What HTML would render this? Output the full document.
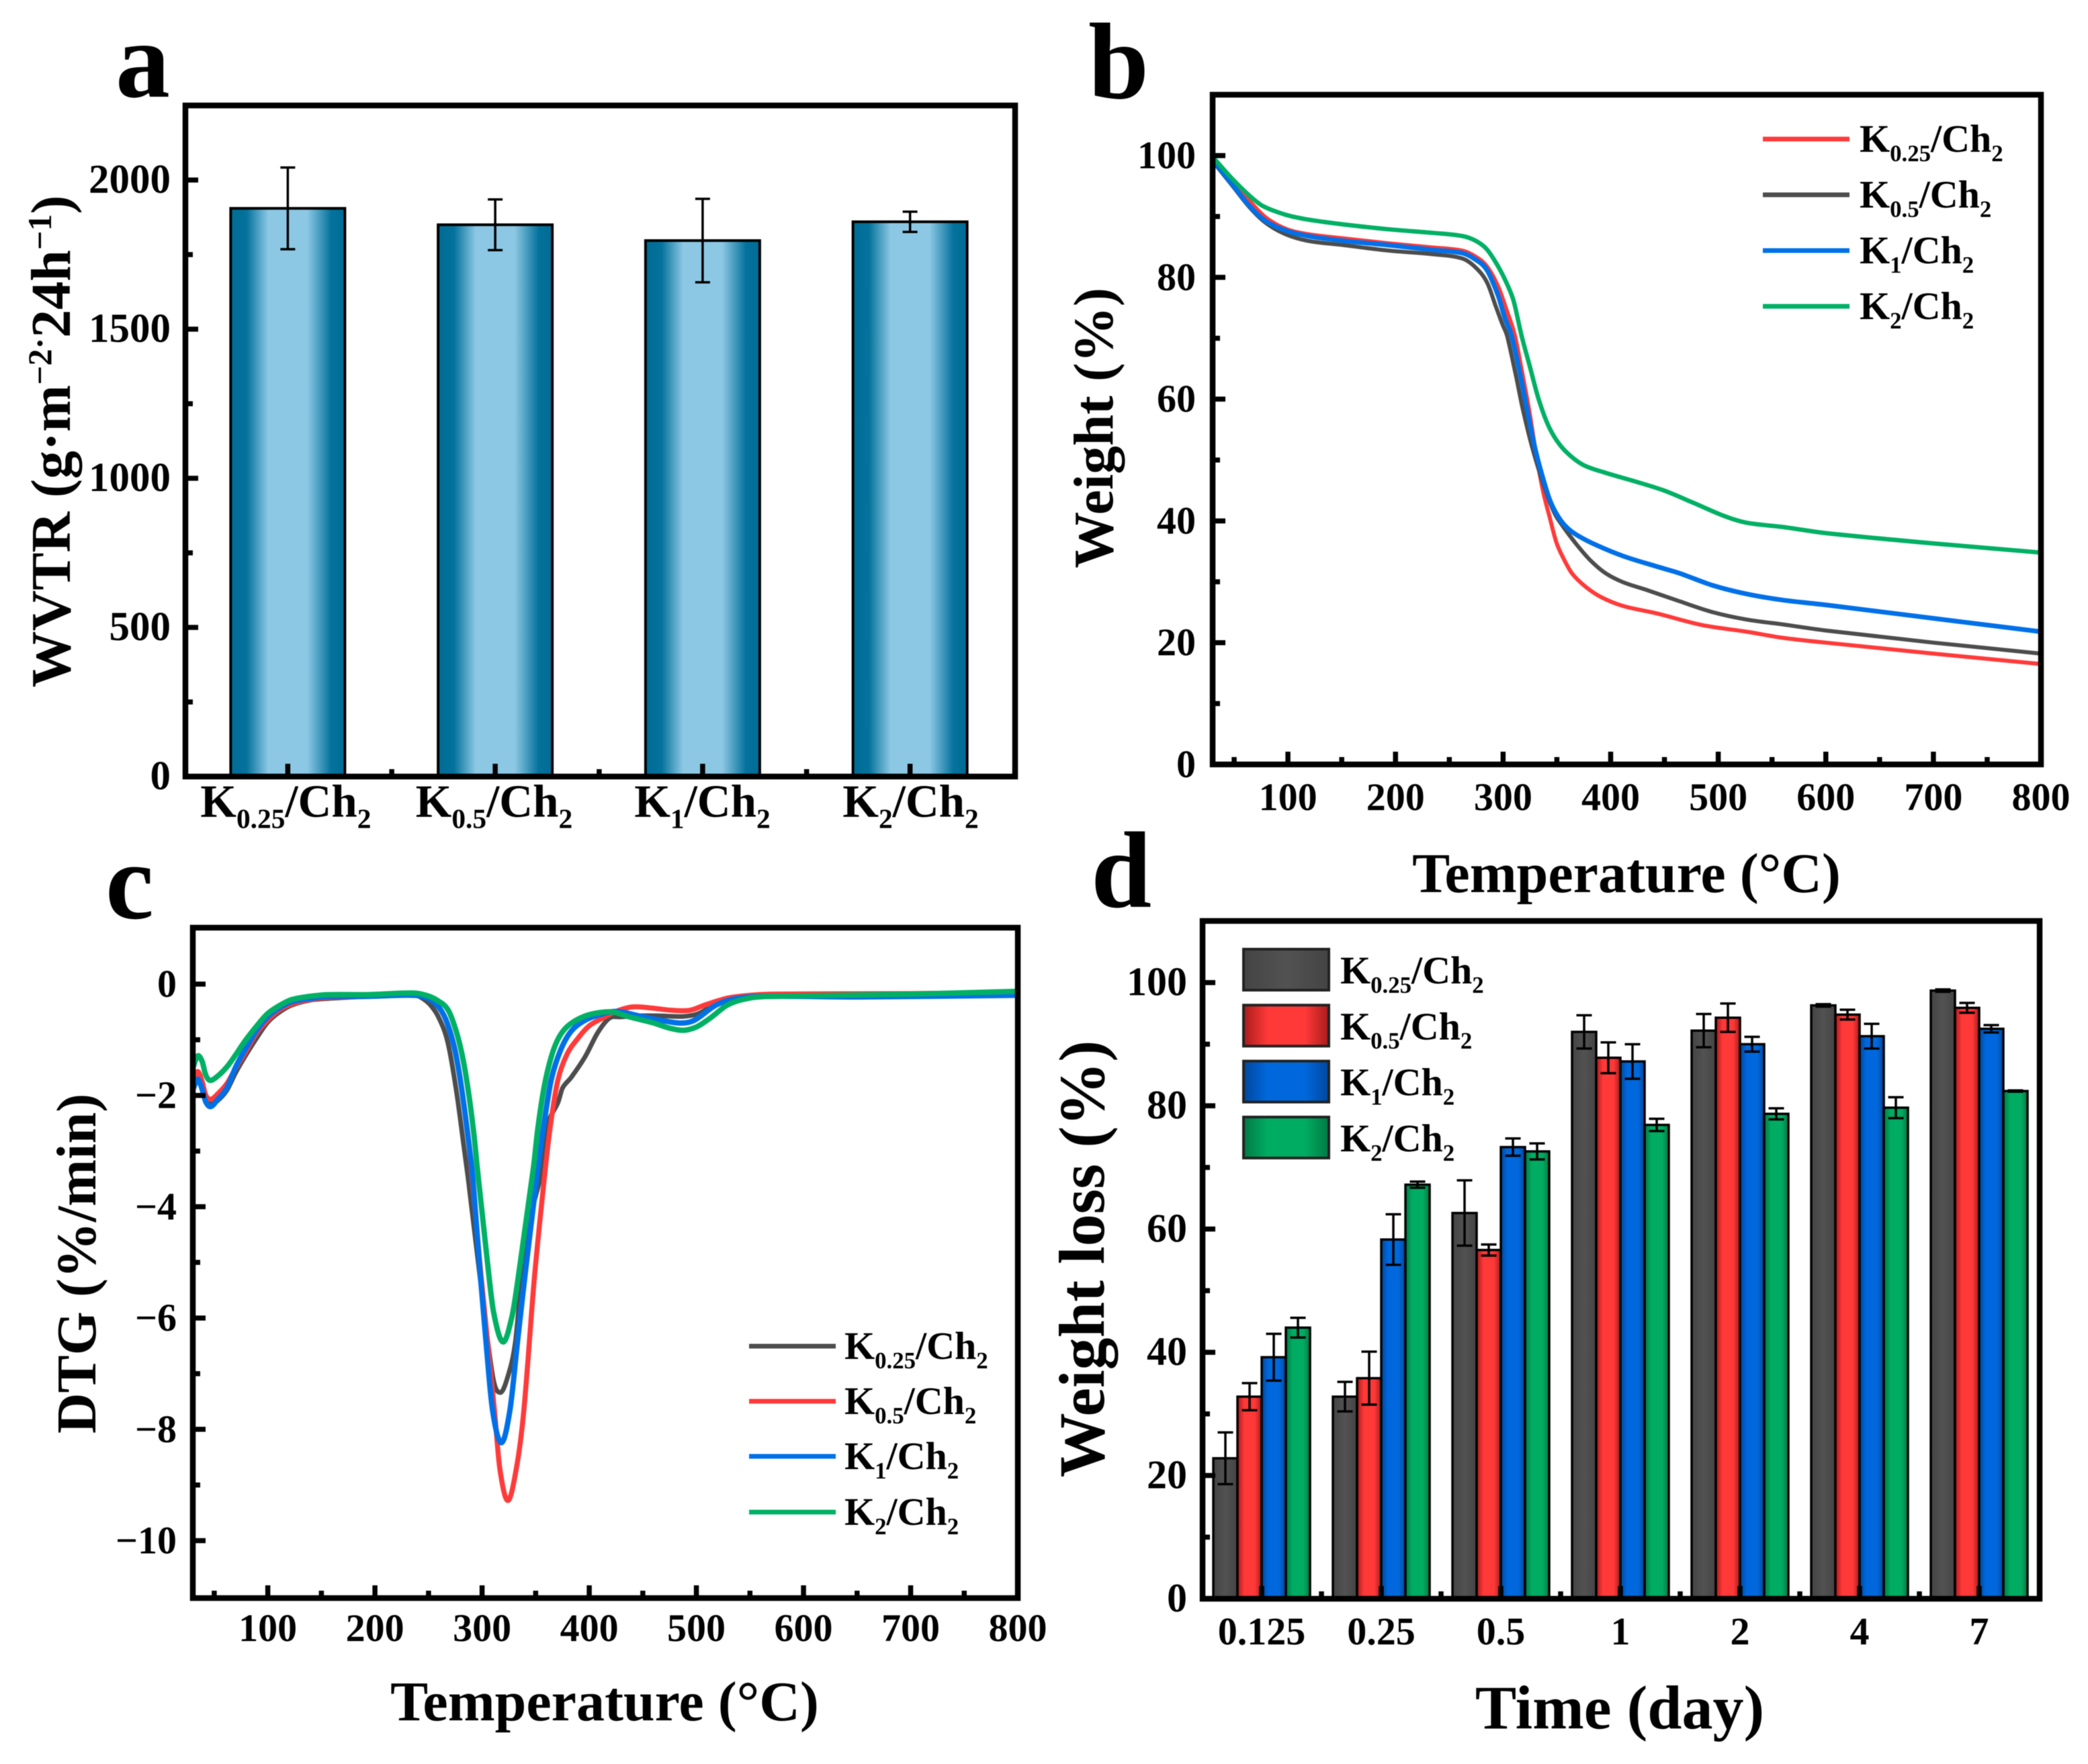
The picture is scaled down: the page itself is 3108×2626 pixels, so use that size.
<!DOCTYPE html>
<html lang="en">
<head>
<meta charset="utf-8">
<title>WVTR, TGA, DTG and weight loss panels</title>
<style>
html,body{margin:0;padding:0;background:#fff;}
svg{display:block;filter:blur(0.6px);}
text{font-family:"Liberation Serif",serif;font-weight:bold;fill:#000;}
</style>
</head>
<body>
<svg id="fig" xmlns="http://www.w3.org/2000/svg" width="3108" height="2626" viewBox="0 0 3108 2626">
<defs>
<linearGradient id="gTeal" x1="0" x2="1" y1="0" y2="0"><stop offset="0" stop-color="#006c96"/><stop offset="0.14" stop-color="#04729c"/><stop offset="0.33" stop-color="#8cc8e4"/><stop offset="0.67" stop-color="#8cc8e4"/><stop offset="0.88" stop-color="#04729c"/><stop offset="1" stop-color="#006c96"/></linearGradient>
<linearGradient id="gGray" x1="0" x2="1" y1="0" y2="0"><stop offset="0" stop-color="#444"/><stop offset="0.5" stop-color="#525252"/><stop offset="1" stop-color="#444"/></linearGradient>
<linearGradient id="gRed" x1="0" x2="1" y1="0" y2="0"><stop offset="0" stop-color="#a81c1c"/><stop offset="0.28" stop-color="#ff3838"/><stop offset="0.72" stop-color="#ff3838"/><stop offset="1" stop-color="#a81c1c"/></linearGradient>
<linearGradient id="gBlue" x1="0" x2="1" y1="0" y2="0"><stop offset="0" stop-color="#00479c"/><stop offset="0.28" stop-color="#0068dc"/><stop offset="0.72" stop-color="#0068dc"/><stop offset="1" stop-color="#00479c"/></linearGradient>
<linearGradient id="gGreen" x1="0" x2="1" y1="0" y2="0"><stop offset="0" stop-color="#007a44"/><stop offset="0.28" stop-color="#00ac62"/><stop offset="0.72" stop-color="#00ac62"/><stop offset="1" stop-color="#007a44"/></linearGradient>
<clipPath id="clipB"><rect x="1805" y="141" width="1233" height="997"/></clipPath>
<clipPath id="clipC"><rect x="287" y="1381" width="1228" height="998"/></clipPath>
</defs>
<rect width="3108" height="2626" fill="#fff"/>

<text x="172" y="144" font-size="162">a</text>
<text x="1620" y="146" font-size="162">b</text>
<text x="157" y="1367" font-size="162">c</text>
<text x="1624" y="1350" font-size="162">d</text>

<text transform="translate(104,657) rotate(-90)" text-anchor="middle" font-size="84">WVTR (g·m<tspan font-size="50" dy="-28">−2·</tspan><tspan dy="28">24h</tspan><tspan font-size="50" dy="-28">−1</tspan><tspan dy="28">)</tspan></text>
<text transform="translate(1656,637) rotate(-90)" text-anchor="middle" font-size="84">Weight (%)</text>
<text x="2421" y="1328" text-anchor="middle" font-size="84">Temperature (°C)</text>
<text transform="translate(142,1881) rotate(-90)" text-anchor="middle" font-size="84">DTG (%/min)</text>
<text x="900" y="2561" text-anchor="middle" font-size="84">Temperature (°C)</text>
<text transform="translate(1643,1874) rotate(-90)" text-anchor="middle" font-size="96">Weight loss (%)</text>
<text x="2411" y="2573" text-anchor="middle" font-size="92">Time (day)</text>
</svg>

<script>
// ---------- panel a data ----------
const wvtrSamples = [["0.25","2"],["0.5","2"],["1","2"],["2","2"]];
const wvtrValues = [1905, 1850, 1797, 1860];
const wvtrErrors = [137, 85, 140, 34];
const wvtrYTicks = [0, 500, 1000, 1500, 2000];

// ---------- panel b data ----------
const tgaK025Temps = [30,47.7,64.4,79,97.7,118.5,151.8,193.4,235,262,274.6,285,295.4,303.7,311,318,324.5,330.8,337,343.3,349.5,355.7,364,376.6,391,412,443,484.8,526.4,560,600,700,800];
const tgaK025 = [99.5,95.6,92.5,89.9,88,87.1,86.4,85.6,84.9,84.4,83.4,81.8,78.5,74.4,70.4,64.1,57.9,50.9,45,40.6,36.5,34,31.4,29.2,27.5,26,24.8,22.9,21.8,20.8,20,18.2,16.5];
const tgaK05Temps = [30,47.7,64.4,79,97.7,118.5,151.8,193.4,235,262,274.6,285,293.3,299.6,303.7,312,318,326.6,337,347.4,355.7,368,380.7,395.3,412,432.8,464,495,526.4,560,600,700,800];
const tgaK05 = [99.1,95.2,91.5,89,87.1,86,85.3,84.4,83.8,83.1,81.6,79.2,75.2,72.2,70.4,63.8,58.6,52.4,46.3,41.4,39.1,36.2,33.6,31.4,29.9,28.7,26.8,25,23.8,23,22,20,18.2];
const tgaK1Temps = [30,47.7,64.4,79,97.7,118.5,151.8,193.4,235,262,274.6,285,295.4,301.7,307.9,316.2,322.4,328.7,335,343.3,351.6,360,370.3,387,412,443,464,495,526.4,560,600,700,800];
const tgaK1 = [99.3,95.4,91.7,89.3,87.7,86.8,86,85.3,84.5,84,82.9,81.2,77,73.3,70.4,63.8,58.2,52.7,48.3,43.5,40.6,38.8,37.5,36,34.2,32.5,31.4,29.4,28,27,26.2,24,21.8];
const tgaK2Temps = [30,47.7,64.4,76.9,97.7,118.5,151.8,193.4,235,262,274.6,285,295.4,303.7,310,317.2,324.5,332.9,341.2,349.5,360,374.5,395.3,422.4,449.4,476.5,505.6,526.4,560,600,700,800];
const tgaK2 = [99.8,96.3,93.4,91.7,90.3,89.5,88.7,87.9,87.3,86.8,86,84.6,81.8,78.9,76,70.4,65.6,60.1,56,53.3,51.1,49.2,47.9,46.5,45,43,40.8,39.7,39,38,36.3,34.8];
const tgaXTicks = [100,200,300,400,500,600,700,800];
const tgaYTicks = [0,20,40,60,80,100];

// ---------- panel c data ----------
const dtgK025Temps = [30,34.6,38.7,42,46.7,53.4,61.7,70,78.4,88.9,99.3,109.7,122,139,156,193,235,243,252,260,268,276,283,287,297,310,317,324,331,337,345,356,360,371,375,383,396,408,419,429,446,467,488,502,519,540,570,650,800];
const dtgK025 = [-1.87,-1.67,-1.83,-2.07,-2.15,-2.09,-1.91,-1.59,-1.31,-0.99,-0.7,-0.52,-0.38,-0.29,-0.26,-0.22,-0.18,-0.24,-0.38,-0.62,-1.05,-1.92,-2.92,-3.5,-5.1,-7.05,-7.34,-7.05,-6.44,-5.24,-4.2,-3.32,-2.6,-2.12,-1.87,-1.68,-1.31,-0.87,-0.61,-0.59,-0.57,-0.57,-0.58,-0.53,-0.35,-0.24,-0.2,-0.22,-0.2];
const dtgK05Temps = [30,34.6,38.7,42,46.7,53.4,61.7,70,78.4,88.9,99.3,109.7,122,139,156,193,235,247,258,266,274,279,284,288,299,311.5,316.5,324,332,339,349,359,364.5,370.8,379,389.6,400,412.6,425,440,458.5,477,494,508.6,529.5,550,571,700,800];
const dtgK05 = [-1.75,-1.57,-1.75,-1.99,-2.07,-1.97,-1.79,-1.51,-1.25,-0.9,-0.66,-0.48,-0.36,-0.28,-0.24,-0.22,-0.18,-0.22,-0.38,-0.63,-1.11,-1.64,-2.31,-2.92,-5.24,-7.65,-8.7,-9.28,-8.7,-7.65,-5.24,-3.32,-2.44,-1.72,-1.27,-0.97,-0.75,-0.61,-0.49,-0.41,-0.43,-0.47,-0.47,-0.37,-0.25,-0.2,-0.18,-0.17,-0.15];
const dtgK1Temps = [30,34.6,37.7,42,46.7,53.4,61.7,70,78.4,88.9,99.3,109.7,122,139,156,193,235,247.6,258,266,273.7,279,284,288,291.4,298.4,303.7,309.7,318,326,333,340,352,358,364.5,373,383,396,408,425,446,467,485.7,498,519,540,570,650,800];
const dtgK1 = [-1.9,-1.71,-1.83,-2.11,-2.2,-2.07,-1.87,-1.49,-1.19,-0.85,-0.6,-0.44,-0.32,-0.26,-0.22,-0.22,-0.2,-0.24,-0.38,-0.63,-1.11,-1.64,-2.31,-2.92,-3.5,-5.24,-6.44,-7.65,-8.24,-7.65,-6.44,-5.24,-3.32,-2.48,-1.72,-1.2,-0.85,-0.65,-0.56,-0.49,-0.57,-0.65,-0.7,-0.65,-0.37,-0.25,-0.22,-0.23,-0.2];
const dtgK2Temps = [30,34.6,38.7,42,46,53.4,61.7,70,78.4,88.9,99.3,109.7,122,139,156,193,235,247.6,258,268.4,276.8,283,288,292.5,295.6,305,310.8,319.5,328,335,347.8,352,358,364.5,370.8,379,391.7,404,421,437.6,458.5,475,487.7,500,513,529.5,550,571,700,800];
const dtgK2 = [-1.51,-1.29,-1.39,-1.63,-1.73,-1.65,-1.49,-1.27,-1.03,-0.77,-0.54,-0.4,-0.28,-0.22,-0.19,-0.19,-0.16,-0.2,-0.29,-0.47,-0.91,-1.43,-2.04,-2.72,-3.32,-5,-5.9,-6.43,-5.96,-5.1,-3.32,-2.6,-1.84,-1.31,-0.99,-0.77,-0.61,-0.53,-0.5,-0.59,-0.69,-0.79,-0.83,-0.77,-0.61,-0.37,-0.25,-0.22,-0.18,-0.13];
const dtgXTicks = [100,200,300,400,500,600,700,800];
const dtgYTicks = [0,-2,-4,-6,-8,-10];

// ---------- panel d data ----------
const lossDays = ["0.125","0.25","0.5","1","2","4","7"];
const lossK025 = [22.8,32.8,62.6,92,92.2,96.3,98.7];
const lossK05 = [32.8,35.8,56.6,87.8,94.3,94.8,95.9];
const lossK1 = [39.2,58.3,73.3,87.2,90,91.3,92.5];
const lossK2 = [44,67.2,72.6,76.9,78.7,79.7,82.4];
const lossK025Err = [4.2,2.4,5.3,2.7,2.7,0.2,0.2];
const lossK05Err = [2.2,4.3,0.9,2.5,2.3,0.8,0.8];
const lossK1Err = [3.8,4.1,1.4,2.8,1.2,2.0,0.6];
const lossK2Err = [1.6,0.5,1.3,1.0,0.9,1.7,0.1];
const lossYTicks = [0,20,40,60,80,100];

// ---------- layout ----------
const RED = "#ff3a3a", GRAY = "#4d4d4d", BLUE = "#0070e8", GREEN = "#00b064";
const frameA = {l:276, r:1511, t:157, b:1156};
const frameB = {l:1805, r:3038, t:141, b:1138};
const frameC = {l:287, r:1515, t:1381, b:2379};
const frameD = {l:1790, r:3036, t:1371, b:2380};
const linear = (d0, d1, r0, r1) => v => r0 + (v - d0) / (d1 - d0) * (r1 - r0);
const aY = linear(0, 2250, frameA.b, frameA.t);
const aX = i => frameA.l - 2 + (i + 0.5) * (frameA.r - frameA.l) / wvtrValues.length;
const bX = linear(30, 800, frameB.l, frameB.r);
const bY = linear(0, 110, frameB.b, frameB.t);
const cX = linear(30, 800, frameC.l, frameC.r);
const cY = linear(0, -10, 1465, 2293.5);
const dX = i => frameD.l - 1 + (i + 0.5) * (frameD.r - frameD.l) / lossDays.length;
const dY = linear(0, 110, frameD.b, frameD.t);

const svg = document.getElementById("fig");
const NS = "http://www.w3.org/2000/svg";
function mk(tag, parent, attrs, text) {
  const el = document.createElementNS(NS, tag);
  for (const k in attrs) el.setAttribute(k, attrs[k]);
  if (text !== undefined) el.textContent = text;
  parent.appendChild(el);
  return el;
}
// Smooth path through mapped points (Hermite tangents suited to uneven spacing)
function smoothPath(xs, ys, fx, fy) {
  const p = xs.map((x, i) => [fx(x), fy(ys[i])]);
  const n = p.length;
  const slope = i => {
    const a = p[Math.max(i - 1, 0)], b = p[Math.min(i + 1, n - 1)];
    return (b[1] - a[1]) / (b[0] - a[0]);
  };
  let d = "M" + p[0][0].toFixed(1) + " " + p[0][1].toFixed(1);
  for (let i = 0; i < n - 1; i++) {
    const h = (p[i + 1][0] - p[i][0]) / 3;
    d += "C" + (p[i][0] + h).toFixed(1) + " " + (p[i][1] + slope(i) * h).toFixed(1) + " " + (p[i + 1][0] - h).toFixed(1) + " " + (p[i + 1][1] - slope(i + 1) * h).toFixed(1) + " " + p[i + 1][0].toFixed(1) + " " + p[i + 1][1].toFixed(1);
  }
  return d;
}
// Label such as K0.25/Ch2 with real text subscripts
function sampleLabel(parent, x, y, size, sub1, sub2, anchor) {
  const t = mk("text", parent, {x: x, y: y, "font-size": size, "text-anchor": anchor || "start"});
  const small = size * 0.6, drop = size * 0.24;
  t.appendChild(document.createTextNode("K"));
  mk("tspan", t, {"font-size": small, dy: drop}, sub1);
  mk("tspan", t, {dy: -drop}, "/Ch");
  mk("tspan", t, {"font-size": small, dy: drop}, sub2);
  return t;
}
function tick(parent, x1, y1, x2, y2) {
  return mk("line", parent, {x1: x1, y1: y1, x2: x2, y2: y2, stroke: "#000", "stroke-width": 7.5});
}
function frame(parent, f) {
  return mk("rect", parent, {x: f.l, y: f.t, width: f.r - f.l, height: f.b - f.t, fill: "none", stroke: "#000", "stroke-width": 8.5});
}
const MAJOR = 19, MINOR = 11;

// ---------- PANEL A ----------
const pa = mk("g", svg, {});


const aBarW = 170;
wvtrValues.forEach((v, i) => {
  const bar = mk("rect", pa, {x: aX(i) - aBarW / 2, y: aY(v), width: aBarW, height: frameA.b - aY(v), fill: "url(#gTeal)", stroke: "#000", "stroke-width": 4});
  
  
  const err = mk("path", pa, {d: "M" + aX(i) + " " + aY(v + wvtrErrors[i]) + "V" + aY(v - wvtrErrors[i]) + "M" + (aX(i) - 11) + " " + aY(v + wvtrErrors[i]) + "h22M" + (aX(i) - 11) + " " + aY(v - wvtrErrors[i]) + "h22", stroke: "#000", "stroke-width": 3.5, fill: "none"});
  
  
  const tk = tick(pa, aX(i), frameA.b, aX(i), frameA.b - MAJOR);
  
  
  if (i > 0) {
    const mt = tick(pa, aX(i) - 154, frameA.b, aX(i) - 154, frameA.b - MINOR);
    
    
  }
  const lab = sampleLabel(pa, aX(i) - 3 + i * 1.3, 1216, 69, wvtrSamples[i][0], wvtrSamples[i][1], "middle");
  
  
});
wvtrYTicks.forEach((v, i) => {
  const tk = tick(pa, frameA.l, aY(v), frameA.l + MAJOR, aY(v));
  
  
  const lab = mk("text", pa, {x: 254, y: aY(v) + 19, "font-size": 61, "text-anchor": "end"}, String(v));
  
  
  if (i < wvtrYTicks.length - 1) {
    const mv = (v + wvtrYTicks[i + 1]) / 2;
    const mt = tick(pa, frameA.l, aY(mv), frameA.l + MINOR, aY(mv));
    
    
  }
});
const fa = frame(pa, frameA);



// ---------- shared axis drawing for line panels ----------
function lineAxes(parent, f, fx, fy, xTicks, yTicks, yMinorStep, labelRight, xBaseline, prefix) {
  xTicks.forEach(v => {
    const tk = tick(parent, fx(v), f.b, fx(v), f.b - MAJOR);
    
    
    const mt = tick(parent, fx(v - 50), f.b, fx(v - 50), f.b - MINOR);
    
    
    const lab = mk("text", parent, {x: fx(v), y: xBaseline, "font-size": 58, "text-anchor": "middle"}, String(v));
    
    
  });
  yTicks.forEach(v => {
    const tk = tick(parent, f.l, fy(v), f.l + MAJOR, fy(v));
    
    
    const lab = mk("text", parent, {x: labelRight, y: fy(v) + 19, "font-size": 58, "text-anchor": "end"}, String(v).replace("-", "\u2212"));
    
    
    if (v !== yTicks[yTicks.length - 1]) {
      const mv = v + yMinorStep;
      const mt = tick(parent, f.l, fy(mv), f.l + MINOR, fy(mv));
      
      
    }
  });
}
function lineLegendEntry(parent, x0, x1, y, color, sub, textX, prefix) {
  const ln = mk("line", parent, {x1: x0, y1: y, x2: x1, y2: y, stroke: color, "stroke-width": 7});
  
  
  const t = sampleLabel(parent, textX, y + 19, 58, sub, "2");
  
  
}

// ---------- PANEL B ----------
const pb = mk("g", svg, {});


const bCurves = mk("g", pb, {"clip-path": "url(#clipB)", fill: "none", "stroke-linejoin": "round"});


const redB = mk("path", bCurves, {d: smoothPath(tgaK025Temps, tgaK025, bX, bY), stroke: RED, "stroke-width": 6});


const grayB = mk("path", bCurves, {d: smoothPath(tgaK05Temps, tgaK05, bX, bY), stroke: GRAY, "stroke-width": 6});


const blueB = mk("path", bCurves, {d: smoothPath(tgaK1Temps, tgaK1, bX, bY), stroke: BLUE, "stroke-width": 7});


const greenB = mk("path", bCurves, {d: smoothPath(tgaK2Temps, tgaK2, bX, bY), stroke: GREEN, "stroke-width": 6.5});


lineAxes(pb, frameB, bX, bY, tgaXTicks, tgaYTicks, 10, 1780, 1206, "tga");
const fb = frame(pb, frameB);


lineLegendEntry(pb, 2624, 2753, 207, RED, "0.25", 2768, "tga");
lineLegendEntry(pb, 2624, 2753, 290, GRAY, "0.5", 2768, "tga");
lineLegendEntry(pb, 2624, 2753, 373, BLUE, "1", 2768, "tga");
lineLegendEntry(pb, 2624, 2753, 456, GREEN, "2", 2768, "tga");

// ---------- PANEL C ----------
const pc = mk("g", svg, {});


const cCurves = mk("g", pc, {"clip-path": "url(#clipC)", fill: "none", "stroke-linejoin": "round"});


const grayC = mk("path", cCurves, {d: smoothPath(dtgK025Temps, dtgK025, cX, cY), stroke: GRAY, "stroke-width": 7});


const redC = mk("path", cCurves, {d: smoothPath(dtgK05Temps, dtgK05, cX, cY), stroke: RED, "stroke-width": 7.5});


const blueC = mk("path", cCurves, {d: smoothPath(dtgK1Temps, dtgK1, cX, cY), stroke: BLUE, "stroke-width": 8});


const greenC = mk("path", cCurves, {d: smoothPath(dtgK2Temps, dtgK2, cX, cY), stroke: GREEN, "stroke-width": 8});


lineAxes(pc, frameC, cX, cY, dtgXTicks, dtgYTicks, -1, 263, 2443, "dtg");
const fc = frame(pc, frameC);


lineLegendEntry(pc, 1115, 1244, 2004, GRAY, "0.25", 1257, "dtg");
lineLegendEntry(pc, 1115, 1244, 2086, RED, "0.5", 1257, "dtg");
lineLegendEntry(pc, 1115, 1244, 2168, BLUE, "1", 1257, "dtg");
lineLegendEntry(pc, 1115, 1244, 2251, GREEN, "2", 1257, "dtg");

// ---------- PANEL D ----------
const pd = mk("g", svg, {});


const lossSeries = [lossK025, lossK05, lossK1, lossK2];
const lossErrs = [lossK025Err, lossK05Err, lossK1Err, lossK2Err];
const lossFills = ["url(#gGray)", "url(#gRed)", "url(#gBlue)", "url(#gGreen)"];
const lossSubs = ["0.25", "0.5", "1", "2"];
const dBarW = 36;
lossSeries.forEach((vals, s) => {
  vals.forEach((v, i) => {
    const x = dX(i) - 2 * dBarW + s * dBarW;
    const bar = mk("rect", pd, {x: x, y: dY(v), width: dBarW, height: frameD.b - dY(v), fill: lossFills[s], stroke: "#000", "stroke-width": 3.5});
    
    
  });
});
lossSeries.forEach((vals, s) => {
  vals.forEach((v, i) => {
    const cx = dX(i) - 2 * dBarW + (s + 0.5) * dBarW;
    const e = lossErrs[s][i];
    const err = mk("path", pd, {d: "M" + cx + " " + dY(v + e) + "V" + dY(v - e) + "M" + (cx - 11.5) + " " + dY(v + e) + "h23M" + (cx - 11.5) + " " + dY(v - e) + "h23", stroke: "#000", "stroke-width": 3.5, fill: "none"});
    
    
  });
});
lossDays.forEach((d, i) => {
  const tk = tick(pd, dX(i), frameD.b, dX(i), frameD.b - MAJOR);
  
  
  if (i > 0) {
    const mx = (dX(i) + dX(i - 1)) / 2;
    const mt = tick(pd, mx, frameD.b, mx, frameD.b - MINOR);
    
    
  }
  const lab = mk("text", pd, {x: dX(i), y: 2448, "font-size": 58, "text-anchor": "middle"}, d);
  
  
});
lossYTicks.forEach((v, i) => {
  const tk = tick(pd, frameD.l, dY(v), frameD.l + MAJOR, dY(v));
  
  
  const lab = mk("text", pd, {x: 1767, y: dY(v) + 19, "font-size": 60, "text-anchor": "end"}, String(v));
  
  
  if (i < lossYTicks.length - 1) {
    const mt = tick(pd, frameD.l, dY(v + 10), frameD.l + MINOR, dY(v + 10));
    
    
  }
});
const fd = frame(pd, frameD);


lossSubs.forEach((sub, s) => {
  const top = 1413 + s * 83.3;
  const sw = mk("rect", pd, {x: 1851, y: top, width: 127, height: 61, fill: lossFills[s], stroke: "#222", "stroke-width": 4});
  
  
  const t = sampleLabel(pd, 1995, top + 51, 58, sub, "2");
  
  
});
</script>
</body>
</html>
